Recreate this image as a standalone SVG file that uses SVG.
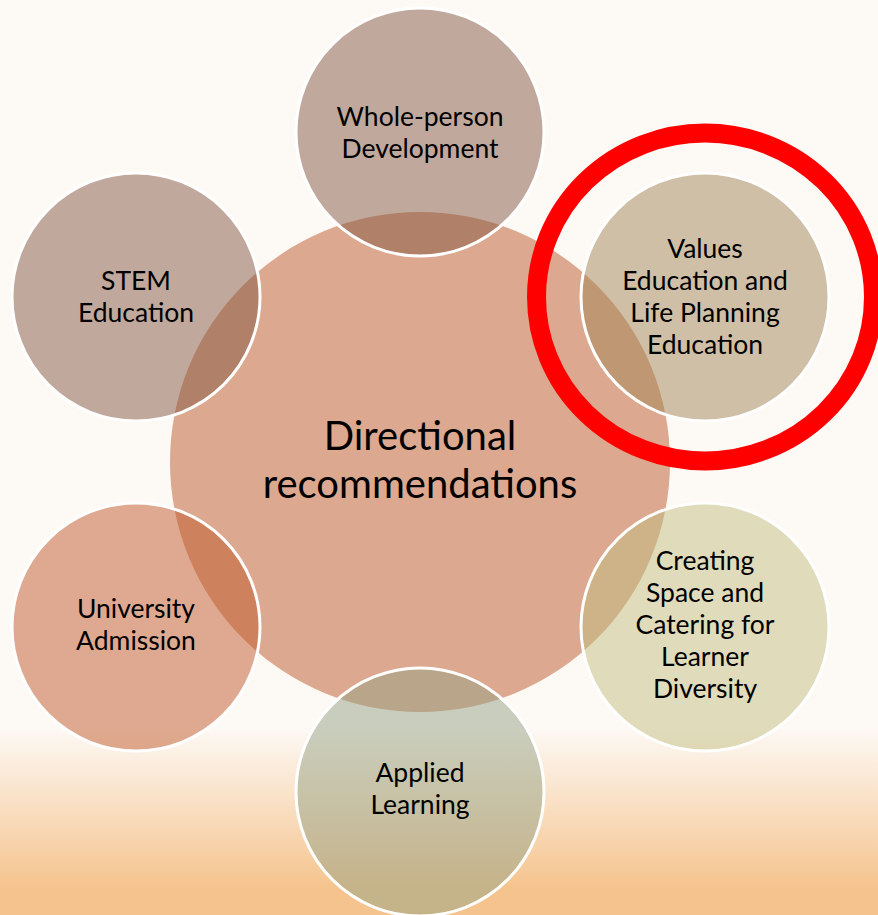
<svg xmlns="http://www.w3.org/2000/svg" width="878" height="915" viewBox="0 0 878 915">
  <defs>
    <linearGradient id="bg" x1="0" y1="0" x2="0" y2="1">
      <stop offset="0" stop-color="#fdf9f5"/>
      <stop offset="0.795" stop-color="#fdf9f5"/>
      <stop offset="0.97" stop-color="#f5c48e"/>
      <stop offset="1" stop-color="#f5c48e"/>
    </linearGradient>
    <style>
      .outer { stroke: #ffffff; stroke-width: 3; fill-opacity: 0.5; }
      .t { font-family: Lato, "Open Sans", "Liberation Sans", sans-serif; font-size: 26.5px; fill: #000000; text-anchor: middle; }
      .big { font-size: 40px; }
    </style>
  </defs>
  <rect x="0" y="0" width="878" height="915" fill="url(#bg)"/>

  <g id="center">
    <circle cx="420" cy="462" r="250" fill="#dca88f"/>
    <text class="t big" x="420" y="450">Directional</text>
    <text class="t big" x="420" y="498">recommendations</text>
  </g>

  <g id="connectors"></g>

  <g id="whole-person">
    <circle class="outer" cx="420" cy="132" r="124" fill="#835743"/>
    <text class="t" x="420" y="126">Whole-person</text>
    <text class="t" x="420" y="158">Development</text>
  </g>

  <g id="stem">
    <circle class="outer" cx="136" cy="297" r="124" fill="#835743"/>
    <text class="t" x="136" y="290">STEM</text>
    <text class="t" x="136" y="322">Education</text>
  </g>

  <g id="values">
    <circle class="outer" cx="705" cy="297" r="124" fill="#a18557"/>
    <text class="t" x="705" y="258">Values</text>
    <text class="t" x="705" y="290">Education and</text>
    <text class="t" x="705" y="322">Life Planning</text>
    <text class="t" x="705" y="354">Education</text>
  </g>

  <g id="creating-space">
    <circle class="outer" cx="705" cy="627" r="124" fill="#c1bd81"/>
    <text class="t" x="705" y="570">Creating</text>
    <text class="t" x="705" y="602">Space and</text>
    <text class="t" x="705" y="634">Catering for</text>
    <text class="t" x="705" y="666">Learner</text>
    <text class="t" x="705" y="698">Diversity</text>
  </g>

  <g id="university-admission">
    <circle class="outer" cx="136" cy="627" r="124" fill="#bf592b"/>
    <text class="t" x="136" y="618">University</text>
    <text class="t" x="136" y="650">Admission</text>
  </g>

  <g id="applied-learning">
    <circle class="outer" cx="420" cy="792" r="124" fill="#95a185"/>
    <text class="t" x="420" y="782">Applied</text>
    <text class="t" x="420" y="814">Learning</text>
  </g>

  <g id="highlight">
    <ellipse cx="705" cy="297" rx="168.5" ry="164" fill="none" stroke="#ff0000" stroke-width="19"/>
  </g>
</svg>
